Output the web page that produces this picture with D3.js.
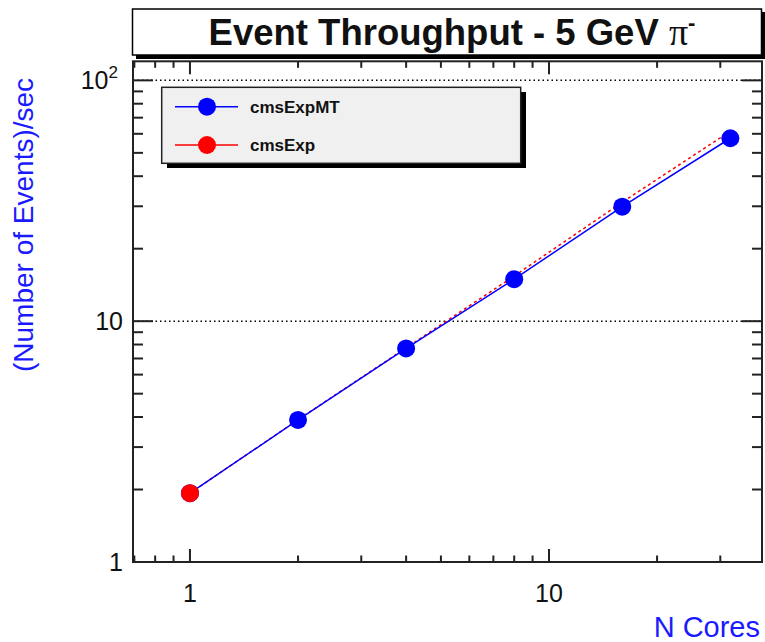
<!DOCTYPE html>
<html><head><meta charset="utf-8">
<script src="https://cdn.jsdelivr.net/npm/d3@7"></script>
<style>body{margin:0;background:#fff} text{font-family:"Liberation Sans",Arial,Helvetica,sans-serif}</style>
</head><body><svg id="c" width="765" height="642"></svg>
<script>
const cores = [1, 2, 4, 8, 16, 32];
const cmsExpMT = [1.93, 3.89, 7.71, 14.95, 29.9, 57.5];
const cmsExp = [1.93, 3.9, 7.75, 15.4, 31.2, 61.5];
const seriesNames = ["cmsExpMT", "cmsExp"];
const xTickLabels = [1, 10];
const yTickLabels = [1, 10, 100];
const title = "Event Throughput - 5 GeV ";
const xTitle = "N Cores";
const yTitle = "(Number of Events)/sec";

const svg = d3.select("#c");
const X0 = 133, X1 = 762, Y0 = 61.3, Y1 = 562;
const x = d3.scaleLog().domain([0.694, 39.2]).range([X0, X1]);
const y = d3.scaleLog().domain([1, 120]).range([Y1, Y0]);

// title box
svg.append("rect").attr("x", 136).attr("y", 12).attr("width", 629).attr("height", 47).attr("fill", "#000");
svg.append("rect").attr("x", 132.5).attr("y", 9).attr("width", 629).attr("height", 46).attr("fill", "#fff").attr("stroke", "#000").attr("stroke-width", 1.5);
const t = svg.append("text").attr("x", 452).attr("y", 45).attr("text-anchor", "middle")
  .attr("font-size", 36.5).attr("font-weight", "bold").attr("fill", "#111");
t.append("tspan").text(title);
t.append("tspan").attr("font-family", "Liberation Serif").attr("font-weight", "normal").attr("font-size", 38).text("π");
t.append("tspan").attr("font-size", 22).attr("dy", -15).text("-");

// grid (dotted) at major y
svg.selectAll(".grid").data(yTickLabels.filter(v => v > 1)).join("line")
  .attr("x1", X0).attr("x2", X1).attr("y1", d => y(d)).attr("y2", d => y(d))
  .attr("stroke", "#000").attr("stroke-width", 1.5).attr("stroke-dasharray", "1.5,3");

// frame
svg.append("rect").attr("x", X0).attr("y", Y0).attr("width", X1 - X0).attr("height", Y1 - Y0)
  .attr("fill", "none").attr("stroke", "#222").attr("stroke-width", 2);

// x ticks (bottom and top)
const xt = x.ticks().filter(v => x(v) > X0 + 1 && x(v) < X1 - 1);
const isMajor = v => Math.abs(Math.log10(v) - Math.round(Math.log10(v))) < 1e-9;
svg.selectAll(".xtb").data(xt).join("line")
  .attr("x1", d => x(d)).attr("x2", d => x(d)).attr("y1", Y1).attr("y2", d => Y1 - (isMajor(d) ? 13 : 6.5))
  .attr("stroke", "#222").attr("stroke-width", 2);
svg.selectAll(".xtt").data(xt).join("line")
  .attr("x1", d => x(d)).attr("x2", d => x(d)).attr("y1", Y0).attr("y2", d => Y0 + (isMajor(d) ? 13 : 6.5))
  .attr("stroke", "#222").attr("stroke-width", 2);
// y ticks (left and right)
const yt = y.ticks().filter(v => y(v) > Y0 + 1 && y(v) < Y1 - 1);
svg.selectAll(".ytl").data(yt).join("line")
  .attr("y1", d => y(d)).attr("y2", d => y(d)).attr("x1", X0).attr("x2", d => X0 + (isMajor(d) ? 20 : 10))
  .attr("stroke", "#222").attr("stroke-width", 2);
svg.selectAll(".ytr").data(yt).join("line")
  .attr("y1", d => y(d)).attr("y2", d => y(d)).attr("x1", X1).attr("x2", d => X1 - (isMajor(d) ? 20 : 10))
  .attr("stroke", "#222").attr("stroke-width", 2);

// tick labels
svg.selectAll(".xl").data(xTickLabels).join("text")
  .attr("x", d => x(d)).attr("y", 602).attr("text-anchor", "middle").attr("font-size", 25).attr("fill", "#111")
  .text(d => d);
yTickLabels.forEach(v => {
  const tx = svg.append("text").attr("x", v === 100 ? 118 : 123).attr("y", y(v) + 9).attr("text-anchor", "end")
    .attr("font-size", 25).attr("fill", "#111");
  if (v === 100) {
    tx.append("tspan").text("10");
    tx.append("tspan").attr("font-size", 17).attr("dy", -11).text("2");
  } else tx.text(v);
});

// axis titles
svg.append("text").attr("x", 760).attr("y", 637).attr("text-anchor", "end").attr("font-size", 29)
  .attr("fill", "#1a1aff").text(xTitle);
svg.append("text").attr("transform", "translate(33,372) rotate(-90)").attr("text-anchor", "start")
  .attr("font-size", 28).attr("fill", "#1a1aff").text(yTitle);

// lines
const line = d3.line().x((d, i) => x(cores[i])).y(d => y(d));
svg.append("path").datum(cmsExp).attr("d", line).attr("fill", "none").attr("stroke", "#ff0000")
  .attr("stroke-width", 1.5).attr("stroke-dasharray", "3,3");
svg.append("path").datum(cmsExpMT).attr("d", line).attr("fill", "none").attr("stroke", "#0000ff")
  .attr("stroke-width", 1.5);
svg.selectAll(".mb").data(cmsExpMT).join("circle")
  .attr("cx", (d, i) => x(cores[i])).attr("cy", d => y(d)).attr("r", 9).attr("fill", "#0000ff");
svg.selectAll(".mr").data(cmsExp.slice(0, 1)).join("circle")
  .attr("cx", (d, i) => x(cores[i])).attr("cy", d => y(d)).attr("r", 9).attr("fill", "#ff0000");

// legend
svg.append("rect").attr("x", 167).attr("y", 92).attr("width", 359).attr("height", 76).attr("fill", "#000");
svg.append("rect").attr("x", 161.7).attr("y", 87.3).attr("width", 359).attr("height", 76)
  .attr("fill", "#f0f0f0").attr("stroke", "#222").attr("stroke-width", 1.5);
const legColors = ["#0000ff", "#ff0000"];
const legY = [106.7, 145];
seriesNames.forEach((n, i) => {
  svg.append("line").attr("x1", 175).attr("x2", 238).attr("y1", legY[i]).attr("y2", legY[i])
    .attr("stroke", legColors[i]).attr("stroke-width", 1.5);
  svg.append("circle").attr("cx", 207).attr("cy", legY[i]).attr("r", 9).attr("fill", legColors[i]);
  svg.append("text").attr("x", 250).attr("y", legY[i] + 6).attr("font-size", 17).attr("font-weight", "bold")
    .attr("fill", "#111").text(n);
});
</script></body></html>
